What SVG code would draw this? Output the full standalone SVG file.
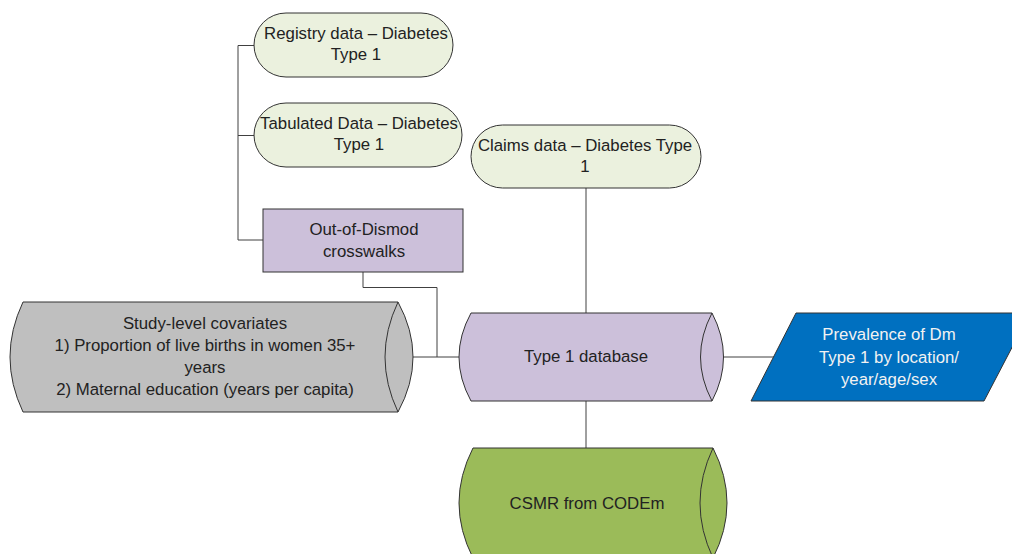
<svg xmlns="http://www.w3.org/2000/svg" width="1012" height="554" viewBox="0 0 1012 554">
<style>
text{font-family:"Liberation Sans",Arial,sans-serif;font-size:16.8px;fill:#222;text-anchor:middle}
.sh{stroke:#333;stroke-width:1}
.green{fill:#EBF1DE}
.lav{fill:#CCC0DA}
.grey{fill:#BFBFBF}
.olive{fill:#9BBB59}
.blue{fill:#0070C0}
.conn{fill:none;stroke:#404040;stroke-width:1}
.inner{fill:none;stroke:#333;stroke-width:1}
.wt{fill:#F2F2F2}
</style>
<rect width="1012" height="554" fill="#FFFFFF"/>
<g id="connectors">
<path class="conn" d="M254,45.5 H238 V240 H263"/>
<path class="conn" d="M238,135.5 H254"/>
<path class="conn" d="M363,272 V287.5 H437 V357"/>
<path class="conn" d="M412,357 H460"/>
<path class="conn" d="M586,188 V313"/>
<path class="conn" d="M712,357 H774"/>
<path class="conn" d="M586,401 V448"/>
</g>
<g id="registry">
<rect class="sh green" x="254" y="13" width="199" height="64" rx="32" ry="32"/>
<text x="356" y="38.5">Registry data – Diabetes</text>
<text x="356" y="60">Type 1</text>
</g>
<g id="tabulated">
<rect class="sh green" x="254" y="103" width="208" height="64" rx="32" ry="32"/>
<text x="359" y="128.5">Tabulated Data – Diabetes</text>
<text x="359" y="150">Type 1</text>
</g>
<g id="claims">
<rect class="sh green" x="471" y="125" width="230" height="63" rx="31.5" ry="31.5"/>
<text x="585" y="150.5">Claims data – Diabetes Type</text>
<text x="585" y="172">1</text>
</g>
<g id="outofdismod">
<rect class="sh lav" x="263" y="209" width="200" height="63"/>
<text x="364" y="235">Out-of-Dismod</text>
<text x="364" y="257">crosswalks</text>
</g>
<g id="studylevel">
<path class="sh grey" d="M23,302 L398,302 Q428,357 398,412 L23,412 Q-3,357 23,302 Z"/>
<path class="inner" d="M398,302 Q372,357 398,412"/>
<text x="205" y="328.5">Study-level covariates</text>
<text x="205" y="350.5">1) Proportion of live births in women 35+</text>
<text x="205" y="372.5">years</text>
<text x="205" y="394.5">2) Maternal education (years per capita)</text>
</g>
<g id="type1db">
<path class="sh lav" d="M471,313 L712,313 Q735,357 712,401 L471,401 Q447,357 471,313 Z"/>
<path class="inner" d="M712,313 Q689,357 712,401"/>
<text x="586" y="362">Type 1 database</text>
</g>
<g id="prevalence">
<polygon class="sh blue" points="796,313 1030,313 984,401 751,401"/>
<text class="wt" x="889" y="340">Prevalence of Dm</text>
<text class="wt" x="889" y="362.5">Type 1 by location/</text>
<text class="wt" x="889" y="385">year/age/sex</text>
</g>
<g id="csmr">
<path class="sh olive" d="M473,448 L713,448 Q741,503 713,558 L473,558 Q445,503 473,448 Z"/>
<path class="inner" d="M713,448 Q687,503 713,558"/>
<text x="587" y="509">CSMR from CODEm</text>
</g>
</svg>
